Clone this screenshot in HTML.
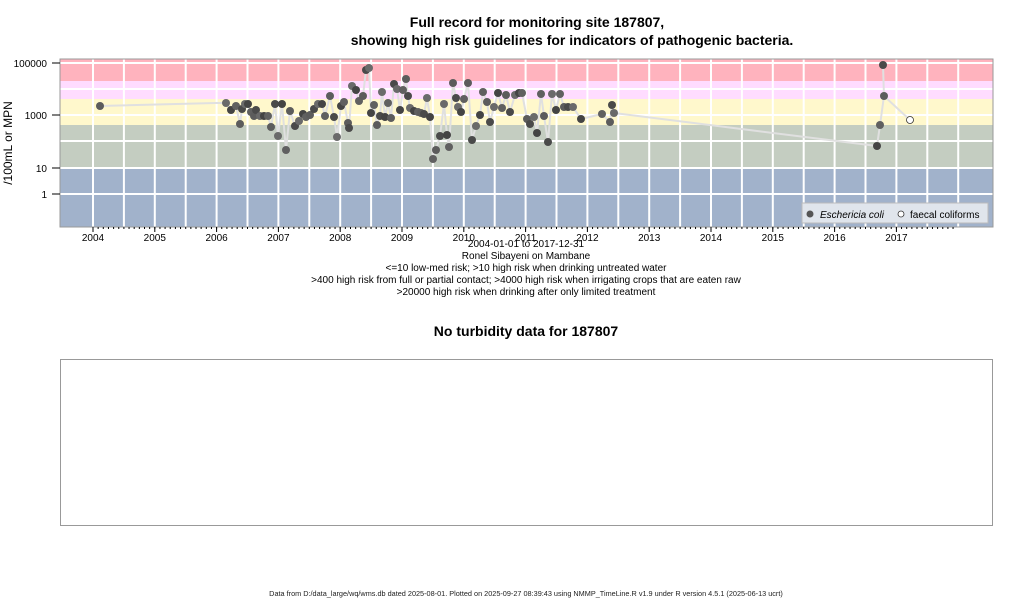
<!DOCTYPE html>
<html><head><meta charset="utf-8"><style>
body{margin:0;background:#fff;width:1024px;height:600px;overflow:hidden;font-family:"Liberation Sans",sans-serif}
svg{position:absolute;left:0;top:0}
</style></head><body>
<svg width="1024" height="600" xmlns="http://www.w3.org/2000/svg" font-family="Liberation Sans, sans-serif">
<text x="537" y="27" font-size="14" font-weight="bold" text-anchor="middle">Full record for monitoring site 187807,</text>
<text x="572" y="45" font-size="14" font-weight="bold" text-anchor="middle">showing high risk guidelines for indicators of pathogenic bacteria.</text>
<g id="bands">
<rect x="60" y="59" width="933" height="22" fill="#ffb3be"/>
<rect x="60" y="81" width="933" height="18" fill="#ffdcff"/>
<rect x="60" y="99" width="933" height="26" fill="#fff8cc"/>
<rect x="60" y="125" width="933" height="43" fill="#c4cdc1"/>
<rect x="60" y="168" width="933" height="59" fill="#a1b2cb"/>
</g>
<g id="grid" stroke="#fff" stroke-width="2"></g>
<rect x="60" y="59" width="933" height="168" fill="none" stroke="#999" stroke-width="1"/>
<g id="yt" font-size="10" text-anchor="end" fill="#000">
<line x1="52" x2="60" y1="63" y2="63" stroke="#000"/><text x="47" y="67">100000</text>
<line x1="52" x2="60" y1="115" y2="115" stroke="#000"/><text x="47" y="119">1000</text>
<line x1="52" x2="60" y1="168" y2="168" stroke="#000"/><text x="47" y="172">10</text>
<line x1="52" x2="60" y1="194" y2="194" stroke="#000"/><text x="47" y="198">1</text>
</g>
<text transform="translate(12,143) rotate(-90)" font-size="12" text-anchor="middle">/100mL or MPN</text>
<g id="xt" font-size="10" text-anchor="middle"></g>
<g id="ser"></g>
<rect x="802" y="203" width="186" height="20" fill="#e0e5ec" stroke="#bbb"/>
<circle cx="810" cy="214" r="3.5" fill="#555"/>
<text x="820" y="218" font-size="10" font-style="italic">Eschericia coli</text>
<circle cx="901" cy="214" r="3" fill="#fff" stroke="#333" stroke-width="0.8"/>
<text x="910" y="218" font-size="10">faecal coliforms</text>
<g font-size="10" text-anchor="middle">
<text x="526" y="247">2004-01-01 to 2017-12-31</text>
<text x="526" y="259">Ronel Sibayeni on Mambane</text>
<text x="526" y="271">&lt;=10 low-med risk; &gt;10 high risk when drinking untreated water</text>
<text x="526" y="283">&gt;400 high risk from full or partial contact; &gt;4000 high risk when irrigating crops that are eaten raw</text>
<text x="526" y="295">&gt;20000 high risk when drinking after only limited treatment</text>
</g>
<text x="526" y="336" font-size="14" font-weight="bold" text-anchor="middle">No turbidity data for 187807</text>
<rect x="60.5" y="359.5" width="932" height="166" fill="none" stroke="#999"/>
<text x="526" y="596" font-size="7.3" text-anchor="middle" fill="#222">Data from D:/data_large/wq/wms.db dated 2025-08-01. Plotted on 2025-09-27 08:39:43 using NMMP_TimeLine.R v1.9 under R version 4.5.1 (2025-06-13 ucrt)</text>
</svg>
<script>
var NS="http://www.w3.org/2000/svg";
function el(p,t,a,txt){var e=document.createElementNS(NS,t);for(var k in a)e.setAttribute(k,a[k]);if(txt)e.textContent=txt;document.getElementById(p).appendChild(e);return e;}
[63,89,115,141,168,194].forEach(function(y){el("grid","line",{x1:60,x2:993,y1:y,y2:y});});
for(var i=0;i<29;i++){var x=93+i*30.9;if(x<993){el("grid","line",{x1:x,x2:x,y1:59,y2:227});}}
for(var yr=2004;yr<=2017;yr++){var x=93+(yr-2004)*61.8;el("xt","line",{x1:x,x2:x,y1:227,y2:232,stroke:"#000"});el("xt","text",{x:x,y:241},String(yr));}
for(var i=0;i<170;i++){var x=93+i*61.8/12;if(x<955)el("xt","line",{x1:x,x2:x,y1:227,y2:229,stroke:"#000"});}
var P=[[100,106],[216,103],[226,103],[231,110],[236,106],[240,124],[242,109],[245,104],[248,104],[251,112],[254,116],[256,110],[260,116],[264,116],[268,116],[271,127],[275,104],[278,136],[282,104],[286,150],[290,111],[295,126],[299,121],[303,114],[306,117],[310,115],[314,109],[318,104],[322,104],[325,116],[330,96],[334,117],[337,137],[341,106],[344,102],[348,123],[349,128],[352,86],[356,90],[359,101],[363,96],[366,70],[369,68],[371,113],[374,105],[377,125],[380,116],[382,92],[385,117],[388,103],[391,118],[394,84],[397,89],[400,110],[403,90],[406,79],[408,96],[410,108],[414,111],[418,112],[421,113],[424,114],[427,98],[430,117],[433,159],[436,150],[440,136],[444,104],[447,135],[449,147],[453,83],[456,98],[458,107],[461,112],[464,99],[468,83],[472,140],[476,126],[480,115],[483,92],[487,102],[490,122],[494,107],[498,93],[502,108],[506,95],[510,112],[515,95],[519,93],[522,93],[527,119],[530,124],[534,117],[537,133],[541,94],[544,116],[548,142],[552,94],[556,110],[560,94],[564,107],[568,107],[573,107],[581,119],[602,114],[610,122],[612,105],[614,113],[877,146],[880,125],[884,96],[883,65]];
var d="M"+P.map(function(p){return p.join(",");}).join("L");
el("ser","path",{d:d,fill:"none",stroke:"#e0e0e0","stroke-width":2});
el("ser","path",{d:"M884,96L910,120",fill:"none",stroke:"#e0e0e0","stroke-width":2});
P.forEach(function(p,i){if(i==1)return;var c=["#5c5c5c","#4a4a4a","#6a6a6a","#444","#606060"][i%5];el("ser","circle",{cx:p[0],cy:p[1],r:4,fill:c});});
el("ser","circle",{cx:910,cy:120,r:3.5,fill:"#fff",stroke:"#333","stroke-width":0.8});
</script>
</body></html>
